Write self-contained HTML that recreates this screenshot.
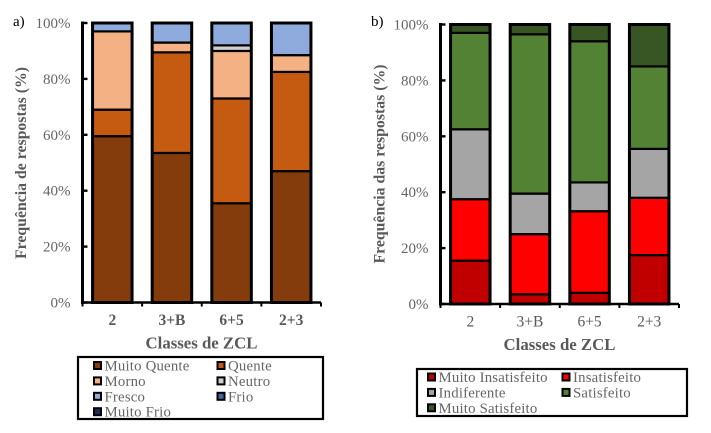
<!DOCTYPE html>
<html lang="pt">
<head>
<meta charset="utf-8">
<title>Frequência de respostas por classes de ZCL</title>
<style>
html,body{margin:0;padding:0;background:#fff;width:711px;height:433px;overflow:hidden}
svg{display:block;font-family:"Liberation Serif",serif}
</style>
</head>
<body>
<svg id="chart" width="711" height="433" viewBox="0 0 711 433" xmlns="http://www.w3.org/2000/svg"></svg>
<script>
const categories = ['2', '3+B', '6+5', '2+3'];
const ticks = [0, 20, 40, 60, 80, 100];

const sensationNames = ['Muito Quente', 'Quente', 'Morno', 'Neutro', 'Fresco', 'Frio', 'Muito Frio'];
const sensationColors = ['#843c0c', '#c55a11', '#f4b183', '#d0cece', '#8faadc', '#44669a', '#1f2d5e'];
const muitoQuente = [59.5, 53.5, 35.5, 47];
const quente = [9.5, 36, 37.5, 35.5];
const morno = [28, 3.5, 17, 6];
const neutro = [0, 0, 2, 0];
const fresco = [3, 7, 8, 11.5];
const frio = [0, 0, 0, 0];
const muitoFrio = [0, 0, 0, 0];

const satisfactionNames = ['Muito Insatisfeito', 'Insatisfeito', 'Indiferente', 'Satisfeito', 'Muito Satisfeito'];
const satisfactionColors = ['#c00000', '#ff0000', '#a5a5a5', '#548235', '#375623'];
const muitoInsatisfeito = [15.5, 3.5, 4, 17.5];
const insatisfeito = [22, 21.5, 29.2, 20.5];
const indiferente = [25, 14.5, 10.3, 17.5];
const satisfeito = [34.5, 57, 50.5, 29.5];
const muitoSatisfeito = [3, 3.5, 6, 15];

const NS = 'http://www.w3.org/2000/svg';
const root = document.getElementById('chart');

function add(parent, tag, attrs, text) {
  const el = document.createElementNS(NS, tag);
  for (const k in attrs) el.setAttribute(k, attrs[k]);
  if (text !== undefined) el.textContent = text;
  parent.appendChild(el);
  return el;
}

function drawChart(cfg) {
  const g = add(root, 'g', {});
  
  
  const yScale = v => cfg.bottom - (v / 100) * (cfg.bottom - cfg.top);
  const band = (cfg.right - cfg.left) / categories.length;
  const xScale = i => cfg.left + band * (i + 0.5);
  const barW = 39.5;

  cfg.series.forEach((values, s) => {
    values.forEach((v, i) => {
      if (v <= 0) return;
      const base = cfg.series.slice(0, s).reduce((acc, arr) => acc + arr[i], 0);
      const bar = add(g, 'rect', {
        x: xScale(i) - barW / 2,
        y: yScale(base + v),
        width: barW,
        height: yScale(base) - yScale(base + v),
        fill: cfg.colors[s],
        stroke: '#000',
        'stroke-width': 2.2
      });
      
      
    });
  });

  categories.forEach((c, i) => {
    const total = cfg.series.reduce((acc, arr) => acc + arr[i], 0);
    const frame = add(g, 'rect', {
      x: xScale(i) - barW / 2,
      y: yScale(total),
      width: barW,
      height: yScale(0) - yScale(total),
      fill: 'none',
      stroke: '#000',
      'stroke-width': 3
    });
    
    
  });

  const yAxis = add(g, 'line', {x1: cfg.left, x2: cfg.left, y1: cfg.top - 1.5, y2: cfg.bottom + 1.5, stroke: '#000', 'stroke-width': 3});
  
  
  const xAxis = add(g, 'line', {x1: cfg.left - 1.5, x2: cfg.right, y1: cfg.bottom, y2: cfg.bottom, stroke: '#000', 'stroke-width': 2.4});
  
  

  ticks.forEach(t => {
    add(g, 'line', {x1: cfg.left, x2: cfg.left + 5, y1: yScale(t), y2: yScale(t), stroke: '#000', 'stroke-width': 2.4});
    const label = add(g, 'text', {x: cfg.left - 12, y: yScale(t) + 5, 'text-anchor': 'end', 'font-size': 15, fill: '#666'}, t + '%');
    
    
  });

  for (let i = 0; i <= categories.length; i++) {
    add(g, 'line', {x1: cfg.left + band * i, x2: cfg.left + band * i, y1: cfg.bottom, y2: cfg.bottom + 4, stroke: '#000', 'stroke-width': 2});
  }
  categories.forEach((c, i) => {
    const label = add(g, 'text', {x: xScale(i), y: cfg.bottom + 22.5, 'text-anchor': 'middle', 'font-size': 15.5, 'font-weight': cfg.boldCats ? 700 : 400, fill: '#595959'}, c);
    
    
  });

  const xTitle = add(g, 'text', {x: cfg.left + 119, y: cfg.bottom + 46, 'text-anchor': 'middle', 'font-size': 16.8, 'font-weight': 700, fill: '#595959'}, 'Classes de ZCL');
  
  

  const yTitle = add(g, 'text', {x: 0, y: 0, transform: 'translate(' + cfg.yTitleX + ' ' + cfg.yTitleY + ') rotate(-90)', 'text-anchor': 'middle', 'font-size': 15.8, 'font-weight': 700, fill: '#595959'}, cfg.yTitle);
  
  

  const panel = add(g, 'text', {x: cfg.panelX, y: 26, 'font-size': 15, fill: '#000'}, cfg.id + ')');
  
  

  const L = cfg.legend;
  const box = add(g, 'rect', {x: L.x, y: L.y, width: L.w, height: L.h, fill: '#fff', stroke: '#000', 'stroke-width': 2.2});
  
  
  cfg.names.forEach((n, k) => {
    const col = k % 2;
    const row = Math.floor(k / 2);
    const cy = L.rowY + row * L.rowH;
    const sx = col ? L.col2 : L.col1;
    const entry = add(g, 'g', {});
    
    
    add(entry, 'rect', {x: sx, y: cy - 3.5, width: 7, height: 7, fill: cfg.colors[k], stroke: '#000', 'stroke-width': 2});
    add(entry, 'text', {x: sx + 10.5, y: cy + 5, 'font-size': 14.8, 'letter-spacing': 0.2, fill: '#666'}, n);
  });
}

drawChart({
  id: 'a', left: 82.5, right: 321, top: 23, bottom: 302.5,
  series: [muitoQuente, quente, morno, neutro, fresco, frio, muitoFrio],
  names: sensationNames, colors: sensationColors, boldCats: true,
  yTitle: 'Frequência de respostas (%)', yTitleX: 26, yTitleY: 163, panelX: 13,
  legend: {x: 78, y: 357, w: 245, h: 62, rowY: 365.5, rowH: 15.4, col1: 94, col2: 217.5}
});
drawChart({
  id: 'b', left: 440.5, right: 679, top: 24.5, bottom: 304,
  series: [muitoInsatisfeito, insatisfeito, indiferente, satisfeito, muitoSatisfeito],
  names: satisfactionNames, colors: satisfactionColors, boldCats: false,
  yTitle: 'Frequência das respostas (%)', yTitleX: 384.5, yTitleY: 164, panelX: 371,
  legend: {x: 417, y: 369, w: 270, h: 47, rowY: 377, rowH: 15.4, col1: 428, col2: 562.5}
});
</script>
</body>
</html>
